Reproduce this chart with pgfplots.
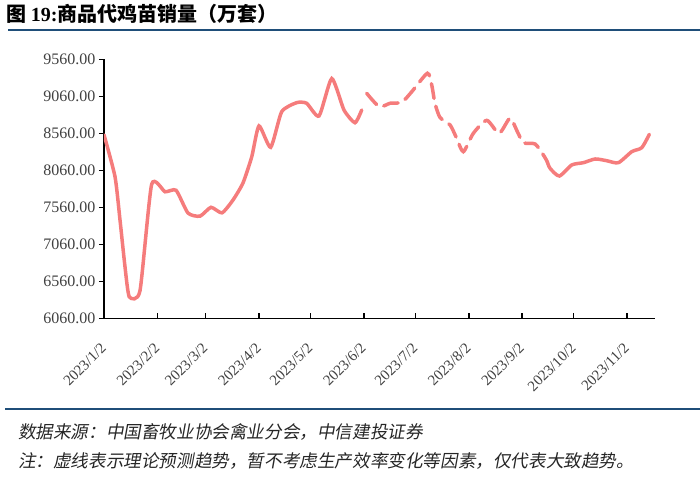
\documentclass[border=0pt]{standalone}
\usepackage{fontspec}
\setmainfont{Liberation Serif}
\newfontfamily\cjk{Noto Sans CJK SC}
\newfontfamily\cjksl[FakeSlant=0.18]{Noto Sans CJK SC}
\usepackage{pgfplots}
\pgfplotsset{compat=1.18}
\definecolor{linec}{RGB}{245,124,124}
\definecolor{bluel}{RGB}{31,78,121}
\definecolor{tickc}{RGB}{64,64,64}
\begin{document}
\begin{tikzpicture}
\useasboundingbox (0,0) rectangle (700bp,-489bp);
\node[anchor=west, inner sep=0] at (6bp,-14bp) {\fontsize{20bp}{23bp}\selectfont\bfseries\cjk 图 {\rmfamily\bfseries 19:}商品代鸡苗销量（万套）};
\draw[bluel, line width=2bp] (8bp,-30bp) -- (700bp,-30bp);
\draw[bluel, line width=2bp] (5bp,-409bp) -- (700bp,-409bp);
\node[anchor=west, inner sep=0, text=black!85] at (18bp,-432bp) {\fontsize{17.6bp}{20bp}\selectfont\cjksl 数据来源：中国畜牧业协会禽业分会，中信建投证券};
\node[anchor=west, inner sep=0, text=black!85] at (18bp,-461bp) {\fontsize{17.6bp}{20bp}\selectfont\cjksl 注：虚线表示理论预测趋势，暂不考虑生产效率变化等因素，仅代表大致趋势。};
\begin{axis}[
  at={(104bp,-318.3bp)}, anchor=south west,
  scale only axis, width=551bp, height=259bp,
  xmin=0, xmax=320.3, ymin=6060, ymax=9560,
  axis lines=left, axis line style={-, line width=1.6bp, black},
  ytick={6060,6560,7060,7560,8060,8560,9060,9560},
  xtick={0,31,59,90,120,151,181,212,243,273,304},
  xticklabels={2023/1/2,2023/2/2,2023/3/2,2023/4/2,2023/5/2,2023/6/2,2023/7/2,2023/8/2,2023/9/2,2023/10/2,2023/11/2},
  tick align=outside, major tick length=5bp,
  tick style={line width=1.6bp, black},
  x tick style={yshift=5bp},
  yticklabel style={font=\fontsize{16bp}{18bp}\selectfont, text=tickc},
  xticklabel style={font=\fontsize{15bp}{17bp}\selectfont, text=tickc, anchor=east, xshift=2bp, yshift=-20bp, rotate=45},
  /pgf/number format/.cd, fixed, fixed zerofill, precision=2, 1000 sep={}, assume math mode=true,
]
\addplot[linec, line width=3.5bp, smooth, tension=0.35, line cap=round] coordinates {
(0,8540) (6.4,7974) (9.3,7389) (12.2,6758) (14.7,6350) (20.9,6430) (27.7,7870)
(35.5,7770) (41.9,7790) (48.8,7483) (55.8,7440) (62.2,7560) (68.6,7485) (75,7659)
(80.8,7889) (85.9,8244) (90.1,8660) (96.9,8371) (103.3,8852) (112,8974) (117.8,8966)
(125,8794) (132.4,9300) (139.5,8875) (145.9,8703) (149.8,8875)
};
\addplot[linec, line width=3.5bp, smooth, tension=0.4, line cap=round, dash pattern=on 15bp off 8bp] coordinates {
(152.7,9101) (160,8920) (166.3,8966) (173.1,8979) (178.9,9122) (188,9371) (190.5,9213)
(192.4,8966) (195.3,8775) (201.2,8672) (205,8493) (208.9,8312) (214.7,8560) (222.5,8735)
(229.7,8560) (236,8763) (240.3,8582) (243.8,8433) (250.6,8416) (255.4,8267) (257.6,8180)
};
\addplot[linec, line width=3.5bp, smooth, tension=0.4, line cap=round] coordinates {
(257.6,8180) (259.3,8087) (264.7,7983) (271.9,8132) (278.7,8163) (285.5,8213) (292.2,8190)
(299,8163) (306.8,8312) (312.6,8366) (317,8546)
};
\end{axis}
\end{tikzpicture}
\end{document}
